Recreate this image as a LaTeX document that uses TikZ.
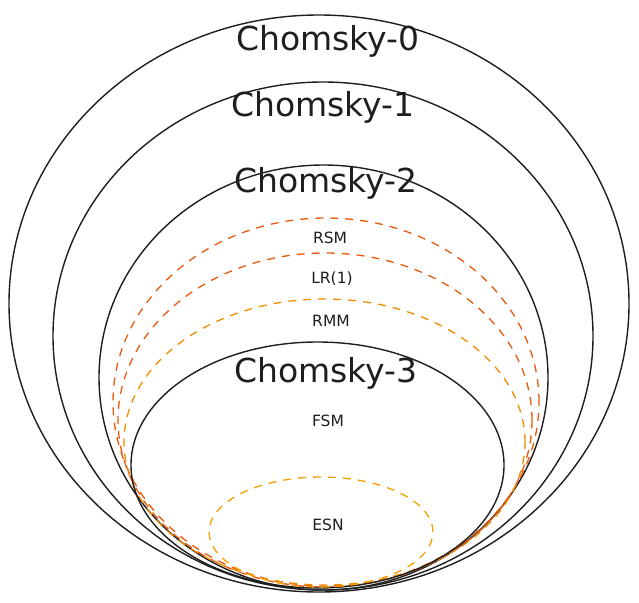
\documentclass[tikz,border=0pt]{standalone}
\usepackage{fontspec}
\setmainfont{DejaVu Sans}
\usetikzlibrary{shapes.geometric}
\definecolor{ink}{HTML}{1E1E1E}
\definecolor{redorange}{HTML}{E8590C}
\definecolor{orangec}{HTML}{F08C00}
\definecolor{yellowc}{HTML}{F59F00}
\tikzset{
  ring/.style={ellipse, draw=ink, line width=1.4pt, inner sep=0pt},
  dring/.style={ellipse, line width=1.3pt, inner sep=0pt, dash pattern=on 8pt off 7pt},
  biglabel/.style={text=ink, font=\fontsize{33}{36}\selectfont, inner sep=0pt},
  smalllabel/.style={text=ink, font=\fontsize{15.5}{18}\selectfont, inner sep=0pt}
}
\begin{document}
\begin{tikzpicture}[x=1pt,y=-1pt]
\useasboundingbox (0,0) rectangle (639,602);
% rings
\node[ring, minimum width=620pt, minimum height=577pt] (c0) at (319,303.5) {};
\node[ring, minimum width=540pt, minimum height=508pt] (c1) at (323,336) {};
\node[ring, minimum width=449pt, minimum height=425pt] (c2) at (323.5,377.5) {};
\node[dring, draw=redorange, minimum width=426pt, minimum height=368pt] (rsm) at (326,402) {};
\node[dring, draw=redorange, minimum width=414pt, minimum height=334pt] (lr) at (325,420) {};
\node[dring, draw=orangec, minimum width=401pt, minimum height=286pt] (rmm) at (324.5,442) {};
\node[ring, minimum width=373pt, minimum height=246pt] (c3) at (317.5,465) {};
\node[dring, draw=yellowc, minimum width=224pt, minimum height=110pt] (esn) at (321,532) {};
% labels
\node[biglabel] (t0) at (328,41) {Chomsky-0};
\node[biglabel] (t1) at (323,107) {Chomsky-1};
\node[biglabel] (t2) at (326,183) {Chomsky-2};
\node[biglabel] (t3) at (326,373) {Chomsky-3};
\node[smalllabel] (trsm) at (330,238) {RSM};
\node[smalllabel] (tlr) at (332,279) {LR(1)};
\node[smalllabel] (trmm) at (331,321) {RMM};
\node[smalllabel] (tfsm) at (328,421) {FSM};
\node[smalllabel] (tesn) at (328,525) {ESN};
\end{tikzpicture}
\end{document}
